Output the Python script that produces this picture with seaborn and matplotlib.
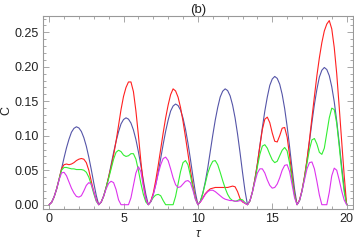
import numpy as np
import pandas as pd
import matplotlib
matplotlib.use("Agg")
import matplotlib.pyplot as plt
from matplotlib.ticker import MultipleLocator, FormatStrFormatter
import seaborn as sns

# tau grid: 6 lobes of width 10/3, 20 samples each (+ end point)
tau = np.linspace(0, 20, 121)

# values, one row per lobe
c_blue = [
    0, .0034, .0113, .0226, .0362, .052, .0678, .0825, .0949, .1051, .1107, .113, .1113, .1062, .0972, .0848, .0689, .0509, .0316, .0136,
    0, .0038, .0126, .0252, .0403, .058, .0756, .092, .1058, .1172, .1235, .126, .1241, .1184, .1084, .0945, .0769, .0567, .0353, .0151,
    0, .0044, .0146, .0292, .0467, .0672, .0876, .1066, .1226, .1358, .1431, .146, .1438, .1372, .1256, .1095, .0891, .0657, .0409, .0175,
    0, .005, .0168, .0336, .0538, .0773, .1008, .1226, .1411, .1562, .1646, .168, .1655, .1579, .1445, .126, .1025, .0756, .047, .0202,
    0, .0056, .0186, .0372, .0595, .0856, .1116, .1358, .1562, .173, .1823, .186, .1832, .1748, .16, .1395, .1135, .0837, .0521, .0223,
    0, .006, .0199, .0398, .0637, .0915, .1194, .1453, .1672, .1851, .195, .199, .196, .1871, .1711, .1493, .1214, .0896, .0557, .0239, 0,
]
c_red = [
    0, .0034, .0113, .0226, .037, .052, .058, .059, .058, .059, .061, .064, .066, .067, .066, .061, .050, .034, .019, .007,
    0, .0038, .0126, .0252, .040, .055, .072, .092, .115, .138, .157, .170, .178, .178, .164, .136, .101, .063, .030, .008,
    0, .005, .0168, .0353, .0571, .0806, .1042, .126, .1445, .1596, .168, .165, .156, .141, .121, .098, .074, .050, .028, .010,
    0, .004, .010, .016, .020, .023, .024, .025, .025, .025, .025, .025, .025, .026, .027, .026, .019, .009, .004, .002,
    0, .0056, .0186, .037, .059, .085, .109, .124, .127, .119, .104, .092, .091, .100, .111, .112, .098, .071, .041, .015,
    0, .007, .021, .041, .065, .094, .126, .157, .187, .213, .235, .252, .262, .267, .255, .228, .190, .142, .092, .043, 0,
]
c_green = [
    0, .0034, .0113, .0226, .037, .050, .054, .054, .053, .052, .052, .051, .051, .051, .050, .047, .040, .029, .016, .005,
    0, .0038, .0126, .0252, .038, .052, .066, .076, .079, .077, .072, .070, .071, .074, .074, .066, .050, .031, .015, .004,
    0, .0044, .0105, .014, .015, .013, .006, 0, 0, 0, 0, .012, .030, .048, .061, .064, .058, .042, .024, .008,
    0, .005, .0168, .031, .046, .056, .063, .064, .058, .047, .035, .024, .015, .009, .006, .005, .006, .008, .007, .003,
    0, .0056, .0186, .035, .055, .073, .085, .087, .082, .073, .065, .061, .063, .071, .079, .083, .078, .060, .036, .013,
    0, .006, .020, .039, .060, .080, .094, .096, .088, .076, .073, .082, .104, .126, .140, .138, .118, .085, .050, .019, 0,
]
c_magenta = [
    0, .0034, .0113, .0226, .036, .046, .047, .042, .033, .024, .017, .012, .011, .013, .020, .028, .032, .030, .019, .006,
    0, .0038, .0126, .023, .031, .034, .032, .022, .007, 0, 0, 0, 0, .010, .028, .046, .055, .048, .027, .008,
    0, .0044, .0146, .029, .045, .058, .067, .069, .064, .052, .039, .029, .025, .026, .030, .034, .035, .032, .021, .008,
    0, .004, .009, .015, .019, .021, .021, .019, .016, .013, .010, .008, .007, .006, .006, .005, .005, .006, .005, .002,
    0, .0056, .0186, .033, .046, .052, .052, .046, .036, .028, .024, .025, .030, .039, .050, .057, .058, .048, .029, .010,
    0, .006, .020, .036, .052, .061, .062, .052, .034, .014, 0, 0, 0, .018, .042, .053, .050, .036, .020, .007, 0,
]

series = {"blue": c_blue, "red": c_red, "green": c_green, "magenta": c_magenta}
palette = {"blue": "#5555a8", "red": "#ff2020", "green": "#33ee33", "magenta": "#dd33ee"}

sns.set_theme(style="ticks")
plt.rcParams["font.family"] = ["Liberation Sans", "DejaVu Sans"]

df = pd.concat(
    [pd.DataFrame({"tau": tau, "C": vals, "curve": name}) for name, vals in series.items()],
    ignore_index=True,
)

fig = plt.figure(figsize=(3.54, 2.43), dpi=100)
ax = fig.add_axes([0.122, 0.14, 0.874, 0.794])
sns.lineplot(data=df, x="tau", y="C", hue="curve", palette=palette,
             estimator=None, sort=False, linewidth=0.8, legend=False, ax=ax)

ax.set_xlim(-0.4, 20.4)
ax.set_ylim(-0.0062, 0.2736)
ax.xaxis.set_major_locator(MultipleLocator(5))
ax.xaxis.set_minor_locator(MultipleLocator(1))
ax.yaxis.set_major_locator(MultipleLocator(0.05))
ax.yaxis.set_minor_locator(MultipleLocator(0.01))
ax.yaxis.set_major_formatter(FormatStrFormatter("%.2f"))
ax.tick_params(which="both", direction="in", top=True, right=True,
               colors="#999999", labelcolor="#222222", labelsize=9, width=0.6)
ax.tick_params(which="major", length=4, pad=3)
ax.tick_params(which="minor", length=2)
for s in ax.spines.values():
    s.set_color("#999999")
    s.set_linewidth(0.8)

ax.set_title("(b)", fontsize=9.5, pad=2, color="#222222")
ax.set_ylabel("C", fontsize=9, color="#222222")
ax.set_xlabel("τ", fontsize=9, style="italic", color="#222222")
ax.yaxis.set_label_coords(-0.100, 0.51)
ax.xaxis.set_label_coords(0.5, -0.100)

fig.savefig("out.png", dpi=100)
